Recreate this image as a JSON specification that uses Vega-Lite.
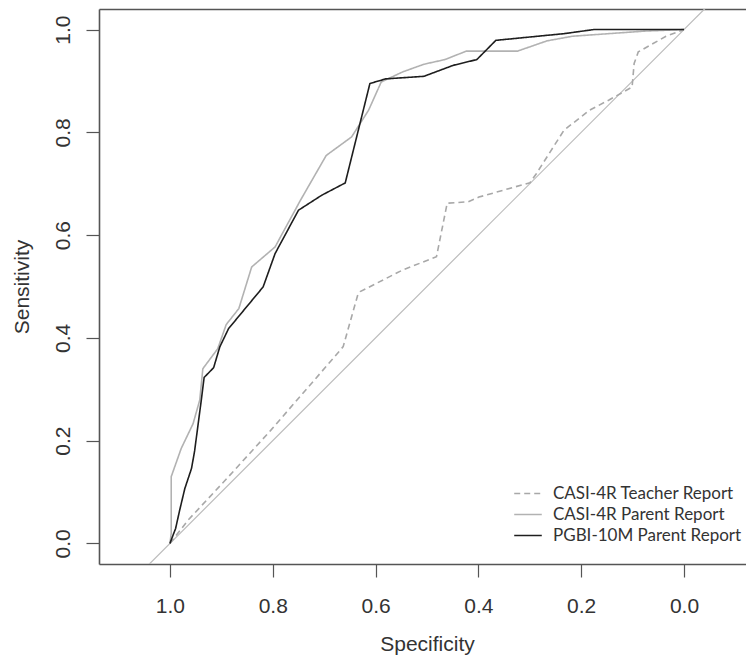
{
  "$schema": "https://vega.github.io/schema/vega-lite/v6.json",
  "width": 647,
  "height": 555,
  "autosize": {"type": "none"},
  "padding": {"left": 99, "top": 9, "right": 0, "bottom": 98},
  "background": "white",
  "config": {
    "view": {"stroke": null},
    "axis": {"grid": false, "labelFont": "Liberation Sans", "titleFont": "Liberation Sans", "labelColor": "#333", "titleColor": "#333", "domainColor": "#555", "domainWidth": 1.6, "tickColor": "#555", "tickWidth": 1.2, "tickSize": 13, "labelFontSize": 21, "titleFontSize": 21, "titleFontWeight": "normal"}
  },
  "datasets": {
    "roc": [
      {"series": "CASI-4R Teacher Report", "i": 1, "spec": 1.0, "sens": 0.0},
      {"series": "CASI-4R Teacher Report", "i": 2, "spec": 0.965, "sens": 0.045},
      {"series": "CASI-4R Teacher Report", "i": 3, "spec": 0.886, "sens": 0.13},
      {"series": "CASI-4R Teacher Report", "i": 4, "spec": 0.804, "sens": 0.22},
      {"series": "CASI-4R Teacher Report", "i": 5, "spec": 0.68, "sens": 0.363},
      {"series": "CASI-4R Teacher Report", "i": 6, "spec": 0.663, "sens": 0.383},
      {"series": "CASI-4R Teacher Report", "i": 7, "spec": 0.634, "sens": 0.486},
      {"series": "CASI-4R Teacher Report", "i": 8, "spec": 0.63, "sens": 0.49},
      {"series": "CASI-4R Teacher Report", "i": 9, "spec": 0.5475, "sens": 0.532},
      {"series": "CASI-4R Teacher Report", "i": 10, "spec": 0.4815, "sens": 0.558},
      {"series": "CASI-4R Teacher Report", "i": 11, "spec": 0.4607, "sens": 0.662},
      {"series": "CASI-4R Teacher Report", "i": 12, "spec": 0.4195, "sens": 0.665},
      {"series": "CASI-4R Teacher Report", "i": 13, "spec": 0.399, "sens": 0.674},
      {"series": "CASI-4R Teacher Report", "i": 14, "spec": 0.2996, "sens": 0.702},
      {"series": "CASI-4R Teacher Report", "i": 15, "spec": 0.287, "sens": 0.72},
      {"series": "CASI-4R Teacher Report", "i": 16, "spec": 0.2335, "sens": 0.804},
      {"series": "CASI-4R Teacher Report", "i": 17, "spec": 0.217, "sens": 0.817},
      {"series": "CASI-4R Teacher Report", "i": 18, "spec": 0.184, "sens": 0.843},
      {"series": "CASI-4R Teacher Report", "i": 19, "spec": 0.1467, "sens": 0.8625},
      {"series": "CASI-4R Teacher Report", "i": 20, "spec": 0.101, "sens": 0.888},
      {"series": "CASI-4R Teacher Report", "i": 21, "spec": 0.097, "sens": 0.934},
      {"series": "CASI-4R Teacher Report", "i": 22, "spec": 0.089, "sens": 0.9565},
      {"series": "CASI-4R Teacher Report", "i": 23, "spec": 0.035, "sens": 0.987},
      {"series": "CASI-4R Teacher Report", "i": 24, "spec": 0.0, "sens": 1.0},
      {"series": "CASI-4R Parent Report", "i": 1, "spec": 1.0, "sens": 0.0},
      {"series": "CASI-4R Parent Report", "i": 2, "spec": 0.9975, "sens": 0.02},
      {"series": "CASI-4R Parent Report", "i": 3, "spec": 0.9975, "sens": 0.13},
      {"series": "CASI-4R Parent Report", "i": 4, "spec": 0.978, "sens": 0.185},
      {"series": "CASI-4R Parent Report", "i": 5, "spec": 0.955, "sens": 0.233},
      {"series": "CASI-4R Parent Report", "i": 6, "spec": 0.942, "sens": 0.279},
      {"series": "CASI-4R Parent Report", "i": 7, "spec": 0.936, "sens": 0.34},
      {"series": "CASI-4R Parent Report", "i": 8, "spec": 0.907, "sens": 0.379},
      {"series": "CASI-4R Parent Report", "i": 9, "spec": 0.8905, "sens": 0.426},
      {"series": "CASI-4R Parent Report", "i": 10, "spec": 0.866, "sens": 0.457},
      {"series": "CASI-4R Parent Report", "i": 11, "spec": 0.841, "sens": 0.538},
      {"series": "CASI-4R Parent Report", "i": 12, "spec": 0.7955, "sens": 0.577},
      {"series": "CASI-4R Parent Report", "i": 13, "spec": 0.746, "sens": 0.668},
      {"series": "CASI-4R Parent Report", "i": 14, "spec": 0.696, "sens": 0.755},
      {"series": "CASI-4R Parent Report", "i": 15, "spec": 0.6467, "sens": 0.791},
      {"series": "CASI-4R Parent Report", "i": 16, "spec": 0.6136, "sens": 0.843},
      {"series": "CASI-4R Parent Report", "i": 17, "spec": 0.589, "sens": 0.898},
      {"series": "CASI-4R Parent Report", "i": 18, "spec": 0.5475, "sens": 0.9175},
      {"series": "CASI-4R Parent Report", "i": 19, "spec": 0.506, "sens": 0.9325},
      {"series": "CASI-4R Parent Report", "i": 20, "spec": 0.465, "sens": 0.9416},
      {"series": "CASI-4R Parent Report", "i": 21, "spec": 0.4236, "sens": 0.958},
      {"series": "CASI-4R Parent Report", "i": 22, "spec": 0.324, "sens": 0.958},
      {"series": "CASI-4R Parent Report", "i": 23, "spec": 0.2665, "sens": 0.978},
      {"series": "CASI-4R Parent Report", "i": 24, "spec": 0.217, "sens": 0.987},
      {"series": "CASI-4R Parent Report", "i": 25, "spec": 0.0765, "sens": 0.997},
      {"series": "CASI-4R Parent Report", "i": 26, "spec": 0.0, "sens": 1.0},
      {"series": "PGBI-10M Parent Report", "i": 1, "spec": 1.0, "sens": 0.0},
      {"series": "PGBI-10M Parent Report", "i": 2, "spec": 0.994, "sens": 0.016},
      {"series": "PGBI-10M Parent Report", "i": 3, "spec": 0.989, "sens": 0.029},
      {"series": "PGBI-10M Parent Report", "i": 4, "spec": 0.981, "sens": 0.065},
      {"series": "PGBI-10M Parent Report", "i": 5, "spec": 0.971, "sens": 0.107},
      {"series": "PGBI-10M Parent Report", "i": 6, "spec": 0.958, "sens": 0.146},
      {"series": "PGBI-10M Parent Report", "i": 7, "spec": 0.952, "sens": 0.18},
      {"series": "PGBI-10M Parent Report", "i": 8, "spec": 0.939, "sens": 0.279},
      {"series": "PGBI-10M Parent Report", "i": 9, "spec": 0.9335, "sens": 0.323},
      {"series": "PGBI-10M Parent Report", "i": 10, "spec": 0.915, "sens": 0.342},
      {"series": "PGBI-10M Parent Report", "i": 11, "spec": 0.903, "sens": 0.3825},
      {"series": "PGBI-10M Parent Report", "i": 12, "spec": 0.886, "sens": 0.418},
      {"series": "PGBI-10M Parent Report", "i": 13, "spec": 0.8187, "sens": 0.4992},
      {"series": "PGBI-10M Parent Report", "i": 14, "spec": 0.7955, "sens": 0.564},
      {"series": "PGBI-10M Parent Report", "i": 15, "spec": 0.75, "sens": 0.6484},
      {"series": "PGBI-10M Parent Report", "i": 16, "spec": 0.7047, "sens": 0.6776},
      {"series": "PGBI-10M Parent Report", "i": 17, "spec": 0.659, "sens": 0.7016},
      {"series": "PGBI-10M Parent Report", "i": 18, "spec": 0.611, "sens": 0.895},
      {"series": "PGBI-10M Parent Report", "i": 19, "spec": 0.5805, "sens": 0.904},
      {"series": "PGBI-10M Parent Report", "i": 20, "spec": 0.506, "sens": 0.909},
      {"series": "PGBI-10M Parent Report", "i": 21, "spec": 0.4485, "sens": 0.9305},
      {"series": "PGBI-10M Parent Report", "i": 22, "spec": 0.403, "sens": 0.9416},
      {"series": "PGBI-10M Parent Report", "i": 23, "spec": 0.366, "sens": 0.979},
      {"series": "PGBI-10M Parent Report", "i": 24, "spec": 0.2335, "sens": 0.992},
      {"series": "PGBI-10M Parent Report", "i": 25, "spec": 0.1757, "sens": 1.0},
      {"series": "PGBI-10M Parent Report", "i": 26, "spec": 0.0, "sens": 1.0}
    ],
    "diag": [
      {"spec": 1.2, "sens": -0.2},
      {"spec": -0.2, "sens": 1.2}
    ]
  },
  "layer": [
    {
      "data": {"name": "diag"},
      "mark": {"type": "line", "color": "#bcbcbc", "strokeWidth": 1.2, "clip": true},
      "encoding": {
        "x": {"field": "spec", "type": "quantitative", "scale": {"domain": [-0.1206, 1.138], "reverse": true, "nice": false, "zero": false},
              "axis": {"orient": "top", "labels": false, "ticks": false, "title": null, "domain": true}},
        "y": {"field": "sens", "type": "quantitative", "scale": {"domain": [-0.04, 1.04], "nice": false, "zero": false},
              "axis": {"orient": "left", "values": [0, 0.2, 0.4, 0.6, 0.8, 1.0], "format": ".1f", "title": "Sensitivity", "labelAngle": 270, "labelAlign": "center", "labelBaseline": "alphabetic", "labelPadding": 17, "titleAngle": 270, "titleX": -71, "titleBaseline": "alphabetic", "titleAnchor": "middle"}}
      }
    },
    {
      "data": {"name": "roc"},
      "mark": {"type": "line", "clip": true},
      "encoding": {
        "x": {"field": "spec", "type": "quantitative",
              "axis": {"orient": "bottom", "values": [0, 0.2, 0.4, 0.6, 0.8, 1.0], "format": ".1f", "title": "Specificity", "labelPadding": 18, "labelBaseline": "top", "titleAnchor": "middle", "titleX": 328, "titleY": 86, "titleBaseline": "alphabetic"}},
        "y": {"field": "sens", "type": "quantitative"},
        "order": {"field": "i", "type": "quantitative"},
        "color": {"field": "series", "type": "nominal",
                  "scale": {"domain": ["CASI-4R Teacher Report", "CASI-4R Parent Report", "PGBI-10M Parent Report"], "range": ["#a8a8a8", "#b2b2b2", "#1e1e1e"]},
                  "legend": {"orient": "none", "legendX": 414, "legendY": 474, "title": null, "labelFont": "Lato", "labelFontSize": 17, "labelColor": "#333", "labelLimit": 400, "symbolType": "stroke", "symbolSize": 760, "labelOffset": 10, "clipHeight": 21, "rowPadding": 0, "padding": 0}},
        "strokeDash": {"field": "series", "type": "nominal",
                       "scale": {"domain": ["CASI-4R Teacher Report", "CASI-4R Parent Report", "PGBI-10M Parent Report"], "range": [[6, 4], [1, 0], [1, 0]]}},
        "strokeWidth": {"field": "series", "type": "nominal",
                        "scale": {"domain": ["CASI-4R Teacher Report", "CASI-4R Parent Report", "PGBI-10M Parent Report"], "range": [1.6, 1.6, 2.2]}}
      }
    }
  ],
  "resolve": {"axis": {"x": "independent"}}
}
